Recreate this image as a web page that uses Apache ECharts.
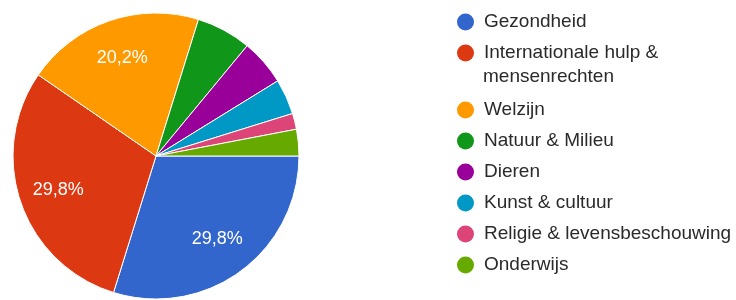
<!DOCTYPE html>
<html>
<head>
<meta charset="utf-8">
<script src="https://cdn.jsdelivr.net/npm/echarts@6/dist/echarts.min.js"></script>
<style>
  html, body { margin:0; padding:0; background:#fff; }
  #chart { width:736px; height:300px; }
</style>
</head>
<body>
<div id="chart"></div>
<script>
/* Pie chart: charity categories, Google-Charts look. Slices start at 3 o'clock, clockwise. */
var categories = [
  "Gezondheid",
  "Internationale hulp & mensenrechten",
  "Welzijn",
  "Natuur & Milieu",
  "Dieren",
  "Kunst & cultuur",
  "Religie & levensbeschouwing",
  "Onderwijs"
];
var shares = [29.8, 29.8, 20.2, 6.2, 5.2, 4.0, 1.8, 3.0];
var colors = ["#3366cc", "#dc3912", "#ff9900", "#109618", "#990099", "#0099c6", "#dd4477", "#66aa00"];

var FONT = "'Liberation Sans', Arial, sans-serif";
var data = categories.map(function(c, i){ return { name:c, value:shares[i] }; });

function pct(v){ return v.toFixed(1).replace(".", ",") + "%"; }

var legendText = { color:"#2a2a2a", fontSize:19, fontFamily:FONT, lineHeight:26, padding:[0,0,0,4] };

var ch = echarts.init(document.getElementById("chart"), null, { renderer:"canvas" });
ch.setOption({
  animation:false,
  backgroundColor:"#fff",
  color:colors,
  legend:[
    { orient:"vertical", left:455, top:9, padding:0, itemGap:5,
      itemWidth:19, itemHeight:19, icon:"circle", selectedMode:false,
      data:categories.slice(0,2), textStyle:legendText,
      formatter:function(n){ return n === categories[1] ? "Internationale hulp &" : n; } },
    { orient:"vertical", left:455, top:97, padding:0, itemGap:5,
      itemWidth:19, itemHeight:19, icon:"circle", selectedMode:false,
      data:categories.slice(2), textStyle:legendText }
  ],
  graphic:[
    { type:"text", left:483, top:67,
      style:{ text:"mensenrechten", fill:"#2a2a2a", font:"19px " + FONT } }
  ],
  series:[
    { type:"pie", center:[156,156], radius:[0,143], startAngle:0, clockwise:true,
      data:data, silent:true,
      itemStyle:{ borderColor:"#fff", borderWidth:1 },
      label:{ show:false }, labelLine:{ show:false },
      emphasis:{ disabled:true } },
    /* transparent twin so the percentage sits at ~0.7 r like the source */
    { type:"pie", center:[156,156], radius:[58,143], startAngle:0, clockwise:true,
      data:data, silent:true, legendHoverLink:false,
      itemStyle:{ color:"rgba(0,0,0,0)", borderWidth:0 },
      label:{ show:true, position:"inside", color:"#fff", fontSize:18, fontFamily:FONT,
        formatter:function(p){ return p.value >= 10 ? pct(p.value) : ""; } },
      labelLine:{ show:false },
      emphasis:{ disabled:true } }
  ]
});
</script>
</body>
</html>
